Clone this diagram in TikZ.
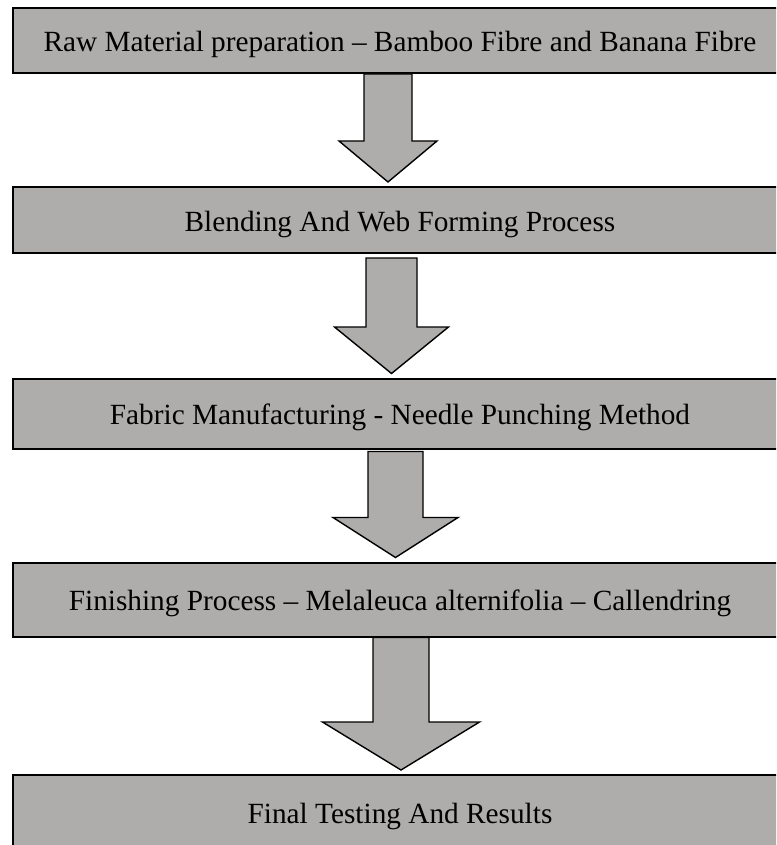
\documentclass[tikz,border=0pt]{standalone}
\usepackage{fontspec}
\setmainfont{Liberation Serif}
\usetikzlibrary{calc}
\definecolor{boxgray}{RGB}{175,173,171}

% Block arrow from the bottom of one stage to the top of the next.
% #1 from node, #2 to node, #3 x offset of the axis, #4 shaft half width,
% #5 head half width, #6 gap below the upper box, #7 depth of the shoulder
\newcommand{\stagearrow}[7]{%
  \draw[blockarrow]
    ($(#1.south)+(#3-#4,#6)$) -- ($(#1.south)+(#3-#4,#7)$)
    -- ($(#1.south)+(#3-#5,#7)$) -- ($(#2.north)+(#3,-4)$)
    -- ($(#1.south)+(#3+#5,#7)$) -- ($(#1.south)+(#3+#4,#7)$)
    -- ($(#1.south)+(#3+#4,#6)$) -- cycle;}

\begin{document}
\begin{tikzpicture}[x=1pt,y=-1pt,
  stage/.style={draw=black, line width=2pt, fill=boxgray, rectangle,
    minimum width=774pt, inner sep=0pt, text height=22pt, text depth=0pt,
    font=\fontsize{29.3}{34}\selectfont},
  blockarrow/.style={draw=black, line width=1.4pt, fill=boxgray, line join=miter}]
\useasboundingbox (0,0) rectangle (776,845);
\clip (0,0) rectangle (776,845);

% process stages
\node[stage, minimum height=65pt] (s1) at (400,40.5)
  {Raw Material preparation – Bamboo Fibre and Banana Fibre};
\node[stage, minimum height=66pt] (s2) at (400,220)
  {Blending And Web Forming Process};
\node[stage, minimum height=70pt] (s3) at (400,413.5)
  {Fabric Manufacturing - Needle Punching Method};
\node[stage, minimum height=74pt] (s4) at (400,599.5)
  {Finishing Process – Melaleuca alternifolia – Callendring};
\node[stage, minimum height=74pt] (s5) at (400,812)
  {Final Testing And Results};

% arrows between stages
\stagearrow{s1}{s2}{-12}{24}{49}{0}{67}
\stagearrow{s2}{s3}{-8.5}{25.5}{57}{4}{73}
\stagearrow{s3}{s4}{-4.5}{27.5}{62.5}{2}{68}
\stagearrow{s4}{s5}{1}{28}{78.5}{0}{84.5}
\end{tikzpicture}
\end{document}
